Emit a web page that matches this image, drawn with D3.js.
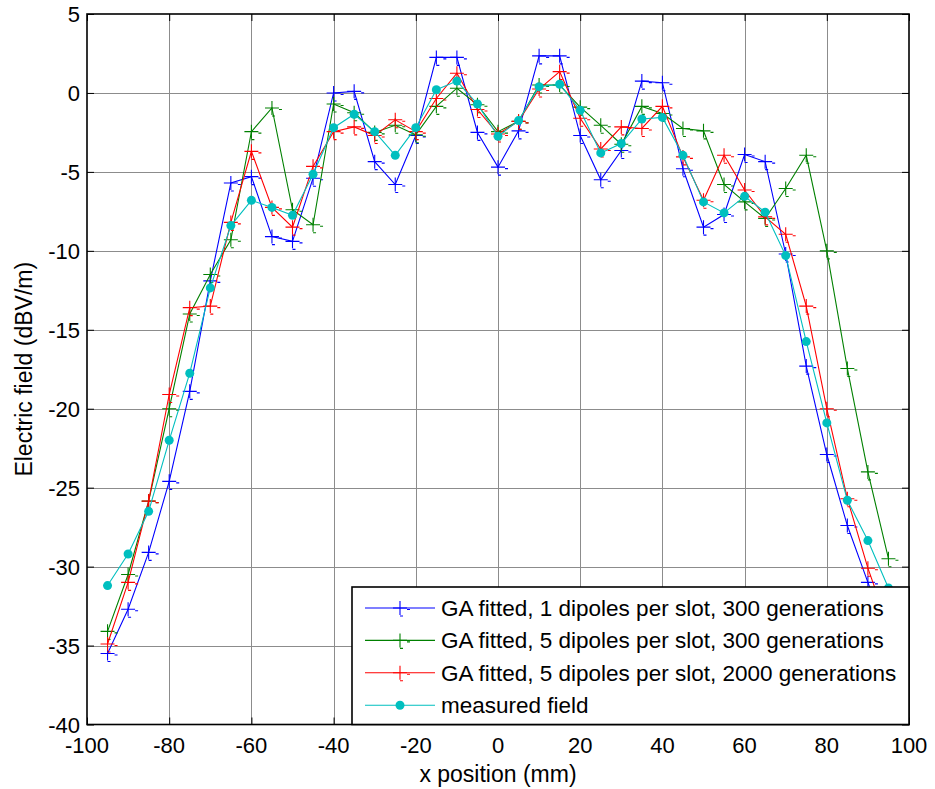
<!DOCTYPE html>
<html>
<head>
<meta charset="utf-8">
<script src="https://cdn.jsdelivr.net/npm/d3@7"></script>
<style>
  html, body { margin: 0; padding: 0; background: #fff; }
  svg { display: block; }
  text { font-family: "Liberation Sans", Arial, sans-serif; fill: #000; }
</style>
</head>
<body>
<svg id="chart" width="935" height="789"></svg>
<script>
// ---- data ----
const xPositions = [-95,-90,-85,-80,-75,-70,-65,-60,-55,-50,-45,-40,-35,-30,-25,-20,-15,-10,-5,0,5,10,15,20,25,30,35,40,45,50,55,60,65,70,75,80,85,90,95];
const ga1dip300 = [-35.5,-32.7,-29.1,-24.6,-18.9,-11.9,-5.7,-5.3,-9.1,-9.4,-5.4,0.0,0.1,-4.35,-5.8,-2.7,2.25,2.25,-2.5,-4.7,-2.4,2.35,2.35,-2.7,-5.5,-3.65,0.75,0.65,-4.8,-8.5,-7.7,-3.9,-4.35,-10.2,-17.3,-22.9,-27.4,-31.0,-34.5];
const ga5dip300 = [-34.1,-30.5,-25.85,-20.0,-14.0,-11.5,-9.3,-2.45,-0.95,-7.4,-8.35,-0.7,-1.25,-2.5,-2.05,-2.65,-0.85,0.3,-0.75,-2.45,-1.8,0.5,0.5,-0.9,-2.05,-3.25,-0.85,-1.3,-2.25,-2.4,-5.8,-6.9,-7.95,-6.05,-3.95,-10.0,-17.45,-24.0,-29.5];
const ga5dip2000 = [-34.9,-31.0,-25.85,-19.1,-13.6,-13.5,-8.2,-3.7,-7.25,-8.5,-4.65,-2.45,-2.15,-2.7,-1.7,-2.45,-0.35,1.25,-1.05,-2.6,-1.8,0.25,1.35,-1.6,-3.55,-2.15,-2.25,-0.85,-4.05,-6.8,-3.95,-6.15,-7.85,-8.95,-13.5,-20.0,-25.7,-30.1,-33.8];
const measured = [-31.2,-29.2,-26.5,-22.0,-17.75,-12.35,-8.4,-6.8,-7.25,-7.75,-5.15,-2.2,-1.35,-2.45,-3.95,-2.2,0.2,0.75,-0.7,-2.75,-1.75,0.4,0.55,-1.1,-3.8,-3.2,-1.65,-1.55,-3.95,-6.9,-7.6,-6.55,-7.55,-10.3,-15.75,-20.9,-25.8,-28.35,-31.35];
const seriesNames = [
  "GA fitted, 1 dipoles per slot, 300 generations",
  "GA fitted, 5 dipoles per slot, 300 generations",
  "GA fitted, 5 dipoles per slot, 2000 generations",
  "measured field"
];
const xTicks = [-100,-80,-60,-40,-20,0,20,40,60,80,100];
const yTicks = [5,0,-5,-10,-15,-20,-25,-30,-35,-40];
const xLabel = "x position (mm)";
const yLabel = "Electric field (dBV/m)";

// ---- layout ----
const L = 87, R = 909, T = 14, B = 724.5;
const svg = d3.select("#chart");
const x = d3.scaleLinear().domain([-100, 100]).range([L, R]);
const y = d3.scaleLinear().domain([-40, 5]).range([B, T]);

// grid
const grid = svg.append("g").attr("stroke", "#8c8c8c").attr("stroke-width", 1);
xTicks.slice(1, -1).forEach(t => grid.append("line")
  .attr("x1", Math.round(x(t)) + 0.5).attr("x2", Math.round(x(t)) + 0.5)
  .attr("y1", T).attr("y2", B));
yTicks.slice(1, -1).forEach(t => grid.append("line")
  .attr("y1", Math.round(y(t)) + 0.5).attr("y2", Math.round(y(t)) + 0.5)
  .attr("x1", L).attr("x2", R));

// axes (inner ticks on all sides)
const tickLen = 7;
const axB = svg.append("g").attr("transform", `translate(0,${B})`)
  .call(d3.axisTop(x).tickValues(xTicks).tickSize(tickLen).tickFormat(""));
const axT = svg.append("g").attr("transform", `translate(0,${T})`)
  .call(d3.axisBottom(x).tickValues(xTicks).tickSize(tickLen).tickFormat(""));
const axL = svg.append("g").attr("transform", `translate(${L},0)`)
  .call(d3.axisRight(y).tickValues(yTicks).tickSize(tickLen).tickFormat(""));
const axR = svg.append("g").attr("transform", `translate(${R},0)`)
  .call(d3.axisLeft(y).tickValues(yTicks).tickSize(tickLen).tickFormat(""));
[axB, axT, axL, axR].forEach(a => {
  a.select(".domain").remove();
  a.selectAll("line").attr("stroke", "#000").attr("stroke-width", 1);
});

// tick labels
const fmt = v => String(v).replace("\u2212", "-");
svg.append("g").selectAll("text").data(xTicks).join("text")
  .attr("x", d => x(d)).attr("y", B + 28.5)
  .attr("text-anchor", "middle").attr("font-size", 22).text(fmt);
svg.append("g").selectAll("text").data(yTicks).join("text")
  .attr("x", L - 7).attr("y", d => y(d) + 8)
  .attr("text-anchor", "end").attr("font-size", 22).text(fmt);

// axis labels
svg.append("text").attr("x", (L + R) / 2).attr("y", B + 57)
  .attr("text-anchor", "middle").attr("font-size", 23).text(xLabel);
svg.append("text").attr("transform", `translate(32,${(T + B) / 2}) rotate(-90)`)
  .attr("text-anchor", "middle").attr("font-size", 23).text(yLabel);

// series
const plotG = svg.append("g");
svg.append("clipPath").attr("id", "clip").append("rect")
  .attr("x", L).attr("y", T).attr("width", R - L).attr("height", B - T);
const line = d3.line().x(d => x(d[0])).y(d => y(d[1]));
const colors = ["#0000ff", "#008000", "#ff0000", "#00bfbf"];
const seriesVals = [ga1dip300, ga5dip300, ga5dip2000, measured];

function plusMarker(g, cx, cy, color) {
  const p = `M${cx-7},${cy}H${cx+7}M${cx},${cy-7}V${cy+7}` +
            `M${cx+7},${cy+1.5}H${cx+10}M${cx},${cy+8}H${cx+3}`;
  g.append("path").attr("d", p).attr("stroke", color).attr("stroke-width", 1.1).attr("fill", "none");
}

seriesVals.forEach((vals, i) => {
  const pts = xPositions.map((xv, j) => [xv, vals[j]]);
  const g = plotG.append("g").attr("clip-path", "url(#clip)");
  g.append("path").attr("d", line(pts)).attr("fill", "none")
    .attr("stroke", colors[i]).attr("stroke-width", 1.1);
  if (i < 3) {
    pts.forEach(p => plusMarker(g, x(p[0]), y(p[1]), colors[i]));
  } else {
    g.selectAll("circle").data(pts).join("circle")
      .attr("cx", d => x(d[0])).attr("cy", d => y(d[1])).attr("r", 4.5)
      .attr("fill", colors[i]);
  }
});

// box
svg.append("rect").attr("x", L).attr("y", T).attr("width", R - L).attr("height", B - T)
  .attr("fill", "none").attr("stroke", "#000").attr("stroke-width", 1.6);

// legend
const lgX = 352, lgY = 587, lgW = R - 352, lgH = B - 587;
const lg = svg.append("g");
lg.append("rect").attr("x", lgX).attr("y", lgY).attr("width", lgW).attr("height", lgH)
  .attr("fill", "#fff").attr("stroke", "#000").attr("stroke-width", 1.6);
seriesNames.forEach((name, i) => {
  const cy = 608 + i * 32.4;
  lg.append("line").attr("x1", 365).attr("x2", 435).attr("y1", cy).attr("y2", cy)
    .attr("stroke", colors[i]).attr("stroke-width", 1.1);
  if (i < 3) plusMarker(lg, 400, cy, colors[i]);
  else lg.append("circle").attr("cx", 400).attr("cy", cy).attr("r", 4.5).attr("fill", colors[i]);
  lg.append("text").attr("x", 441).attr("y", cy + 8).attr("font-size", 22.5).text(name);
});
</script>
</body>
</html>
